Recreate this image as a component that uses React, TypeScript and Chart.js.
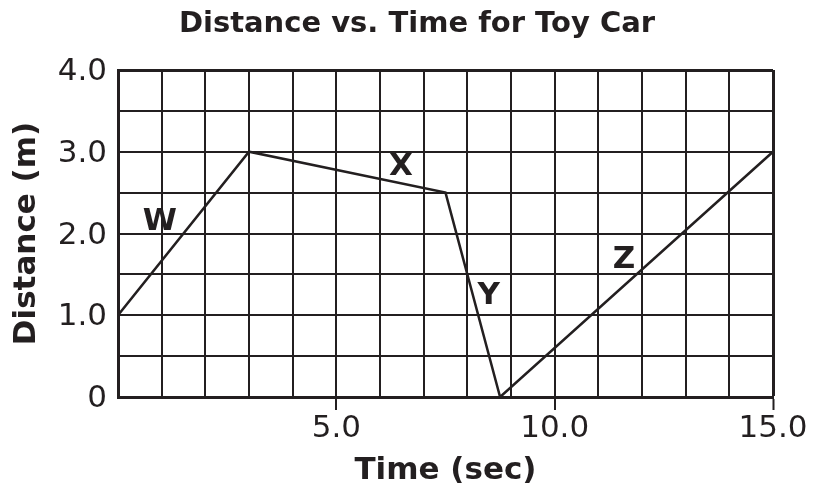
import React, { useEffect, useRef } from 'react';
import { Chart, registerables } from 'chart.js';

Chart.register(...registerables);

const TITLE = 'Distance vs. Time for Toy Car';
const X_TITLE = 'Time (sec)';
const Y_TITLE = 'Distance (m)';

const timeSec = [0, 3, 7.5, 8.75, 15];
const distanceM = [1, 3, 2.5, 0, 3];

const segmentLabels = ['W', 'X', 'Y', 'Z'];
const segmentLabelX = [0.96, 6.48, 8.49, 11.59];
const segmentLabelY = [2.18, 2.85, 1.27, 1.72];

const xLabeledTicks = [5, 10, 15];
const yLabeledTicks = [0, 1, 2, 3, 4];

const INK = '#231f20';
const FONT = '"DejaVu Sans", Verdana, sans-serif';

const overlayPlugin = {
  id: 'overlayText',
  afterDatasetsDraw(chart: any) {
    const { ctx, scales } = chart;
    ctx.save();
    ctx.fillStyle = INK;
    // chart title
    ctx.font = `bold 29px ${FONT}`;
    ctx.textAlign = 'center';
    ctx.textBaseline = 'alphabetic';
    ctx.fillText(TITLE, 417, 31.5);
    // segment letters
    const size = 31;
    ctx.font = `bold ${size}px ${FONT}`;
    segmentLabels.forEach((t, i) => {
      const px = scales.x.getPixelForValue(segmentLabelX[i]);
      const py = scales.y.getPixelForValue(segmentLabelY[i]);
      ctx.fillText(t, px, py + size * 0.365);
    });
    ctx.restore();
  },
};

export default function App() {
  const ref = useRef<HTMLCanvasElement | null>(null);

  useEffect(() => {
    document.body.style.margin = '0';
    const canvas = ref.current;
    if (!canvas) return;
    const chart = new Chart(canvas, {
      type: 'line',
      data: {
        datasets: [
          {
            label: 'Toy car',
            data: timeSec.map((t, i) => ({ x: t, y: distanceM[i] })),
            borderColor: INK,
            borderWidth: 2.5,
            pointRadius: 0,
            fill: false,
            tension: 0,
          },
        ],
      },
      options: {
        animation: false,
        responsive: false,
        devicePixelRatio: 1,
        layout: { padding: { top: 70, right: 42, left: 0, bottom: 0 } },
        plugins: {
          legend: { display: false },
          title: { display: false },
          tooltip: { enabled: false },
        },
        scales: {
          x: {
            type: 'linear',
            min: 0,
            max: 15,
            afterFit: (s: any) => {
              s.height = 93;
            },
            ticks: {
              stepSize: 1,
              autoSkip: false,
              maxRotation: 0,
              padding: 0,
              color: INK,
              font: { family: FONT, size: 31 },
              callback: (v: any) => (xLabeledTicks.includes(Number(v)) ? Number(v).toFixed(1) : ''),
            },
            grid: {
              color: INK,
              lineWidth: (c: any) => (c.index === 15 ? 3 : 2),
              drawTicks: true,
              tickLength: 13,
              tickWidth: 2,
              tickColor: (c: any) =>
                c.tick && xLabeledTicks.includes(c.tick.value) ? INK : 'rgba(0,0,0,0)',
            },
            border: { display: true, color: INK, width: 3 },
            title: {
              display: true,
              text: X_TITLE,
              color: INK,
              font: { family: FONT, size: 31, weight: 'bold' },
              padding: { top: 0, bottom: 0 },
            },
          },
          y: {
            type: 'linear',
            min: 0,
            max: 4,
            afterFit: (s: any) => {
              s.width = 118;
            },
            ticks: {
              stepSize: 0.5,
              autoSkip: false,
              padding: 11,
              labelOffset: 2,
              color: INK,
              font: { family: FONT, size: 31 },
              callback: (v: any) => {
                const n = Number(v);
                if (!yLabeledTicks.includes(n)) return '';
                return n === 0 ? '0' : n.toFixed(1);
              },
            },
            grid: {
              color: INK,
              lineWidth: (c: any) => (c.index === 8 ? 3 : 2),
              drawTicks: false,
            },
            border: { display: true, color: INK, width: 3 },
            title: {
              display: true,
              text: Y_TITLE,
              color: INK,
              font: { family: FONT, size: 31, weight: 'bold' },
              padding: { top: 8, bottom: 0 },
            },
          },
        },
      },
      plugins: [overlayPlugin],
    });
    return () => chart.destroy();
  }, []);

  return (
    <div style={{ width: 815, height: 490, background: '#ffffff' }}>
      <canvas ref={ref} width={815} height={490} style={{ display: 'block' }} />
    </div>
  );
}
